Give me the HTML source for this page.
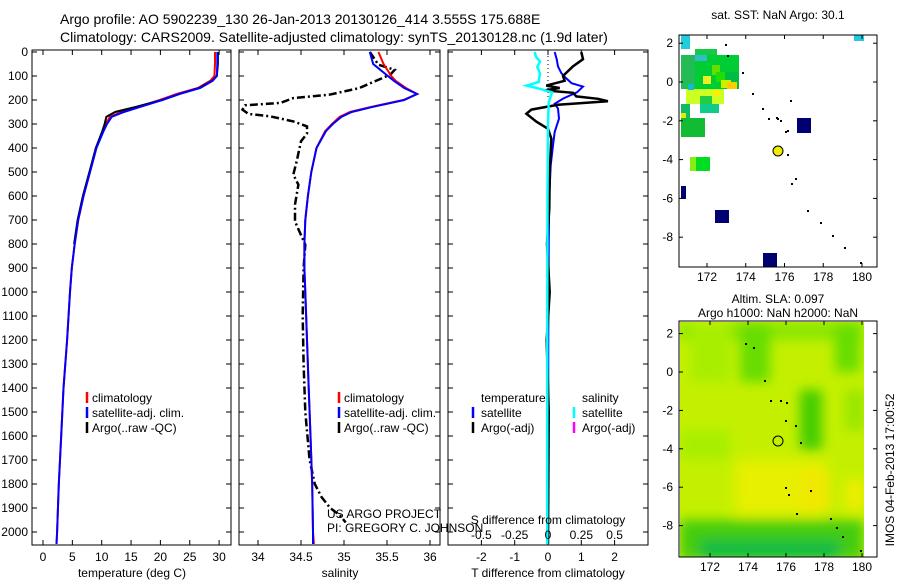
<!DOCTYPE html>
<html><head><meta charset="utf-8"><style>
body{margin:0;background:#fff;}
svg{display:block;font-family:"Liberation Sans",sans-serif;}
</style></head><body>
<svg id="c" width="900" height="580" xmlns="http://www.w3.org/2000/svg"></svg>
<script>
// ---------- data ----------
const depthTicks=[0,100,200,300,400,500,600,700,800,900,1000,1100,1200,1300,1400,1500,1600,1700,1800,1900,2000];
const tempTicks=[0,5,10,15,20,25,30];
const salTicks=[34,34.5,35,35.5,36];
const tdiffTicks=[-2,-1,0,1,2];
const sdiffTicks=[-0.5,-0.25,0,0.25,0.5];
const lonTicks=[172,174,176,178,180];
const latTicks=[2,0,-2,-4,-6,-8];
const profP=[0,50,100,120,150,175,200,230,250,270,300,330,400,500,600,700,800,900,1000,1200,1400,1600,1800,2000,2050];
const tempClim=[29.3,29.3,29.2,28.5,26.4,22.8,19.9,16,13.4,11.4,10.7,10.2,9.1,8.0,6.9,6.0,5.4,4.9,4.6,4.1,3.5,3.1,2.7,2.4,2.3];
const tempSat=[29.7,29.7,29.6,28.9,26.8,23.2,20.3,16.4,13.8,11.7,10.9,10.3,9.1,8.0,6.9,6.0,5.4,4.9,4.6,4.1,3.5,3.1,2.7,2.4,2.3];
const argoP=[0,50,100,120,150,175,200,230,250,270,300,330,400,500,600,700,800];
const tempArgo=[29.8,29.8,29.6,28.8,26.6,23.2,20.3,15.6,12.3,10.8,10.5,10.1,9.0,7.9,6.8,5.9,5.3];
const salClim=[35.40,35.46,35.55,35.60,35.72,35.85,35.69,35.30,35.07,34.95,34.86,34.78,34.68,34.62,34.58,34.55,34.54,34.54,34.55,34.57,34.59,34.61,34.63,34.64,34.65];
const salSat=[35.30,35.34,35.51,35.58,35.70,35.85,35.70,35.32,35.09,34.97,34.87,34.79,34.68,34.62,34.58,34.55,34.54,34.54,34.55,34.57,34.59,34.61,34.63,34.64,34.64];
const salArgoP=[0,53,74,94,125,150,178,192,212,222,240,258,268,289,310,340,372,455,511,553,636,706,747,803,900,1100,1300,1500,1700,1800,1855,1900,1930,1960];
const salArgo=[35.30,35.40,35.59,35.54,35.34,35.18,34.83,34.41,34.26,33.85,33.82,33.89,34.14,34.41,34.57,34.57,34.50,34.45,34.41,34.47,34.43,34.43,34.48,34.55,34.53,34.52,34.53,34.55,34.60,34.66,34.74,34.84,34.95,35.02];
const dP=[0,30,60,88,110,130,144,168,194,216,236,278,333,389,472,600,800,1200,2050];
const tdiffSat=[0.2,0.26,0.3,0.4,0.55,0.71,1.05,0.87,0.45,0.2,0.3,0.33,0.2,0.15,0.08,0.04,0.02,0.01,0.0];
const tdP=[0,30,60,100,120,140,150,160,170,185,195,205,220,240,257,290,320,360,500,650,800,1000,1200,1500,2050];
const tdiffArgo=[1.0,1.05,0.75,0.45,0.5,-0.05,0.35,-0.1,0.75,0.85,1.5,1.8,0.3,-0.5,-0.65,-0.35,0.0,0.1,0.05,0.04,-0.03,0.05,-0.04,0.02,0.0];
const sdP=[0,20,40,62,90,125,140,155,168,185,210,300,600,1000,2050];
const sdiffSat=[-0.1,-0.09,-0.06,-0.08,-0.06,-0.07,-0.16,-0.05,0.03,0.02,0.005,0.0,-0.004,-0.005,-0.006];
// ---------- helpers ----------
const S=document.getElementById('c');const NS='http://www.w3.org/2000/svg';
function el(t,a,p){const e=document.createElementNS(NS,t);for(const k in a)e.setAttribute(k,a[k]);(p||S).appendChild(e);return e;}
function tx(x,y,s,anchor,size,name){const e=el('text',{x:x,y:y,'font-size':size||12,'text-anchor':anchor||'start',fill:'#000'});e.textContent=s;

return e;}
const yP=p=>52+p*0.24;
const PT=50,PB=545;
function frame(x0,x1,name){const r=el('rect',{x:x0,y:PT,width:x1-x0,height:PB-PT,fill:'none',stroke:'#000','stroke-width':1});


depthTicks.forEach(d=>{el('line',{x1:x0,x2:x0+5,y1:yP(d),y2:yP(d),stroke:'#000'});el('line',{x1:x1-5,x2:x1,y1:yP(d),y2:yP(d),stroke:'#000'});});}
function line(xs,ps,fx,color,w,name,dash){const pts=xs.map((v,i)=>fx(v).toFixed(1)+','+yP(ps[i]).toFixed(1)).join(' ');
const a={points:pts,fill:'none',stroke:color,'stroke-width':w||2};if(dash)a['stroke-dasharray']=dash;const e=el('polyline',a);

}
// titles
tx(60,24,'Argo profile: AO 5902239_130 26-Jan-2013 20130126_414 3.555S 175.688E','start',14,'figure-title');
tx(60,42,'Climatology: CARS2009. Satellite-adjusted climatology: synTS_20130128.nc (1.9d later)','start',14,'figure-subtitle');
// ---- panel 1 temperature
const xT=v=>43+v*5.87;
frame(32,231,'temperature-panel');
depthTicks.forEach(d=>tx(28,yP(d)+4,String(d),'end',12,'depth-tick-label'));
tempTicks.forEach(t=>{el('line',{x1:xT(t),x2:xT(t),y1:PB,y2:PB-5,stroke:'#000'});el('line',{x1:xT(t),x2:xT(t),y1:PT,y2:PT+5,stroke:'#000'});tx(xT(t),561,String(t),'middle',12,'temp-tick-label');});
tx(132,577,'temperature (deg C)','middle',12,'temperature-axis-title');
line(tempClim,profP,xT,'#f00',2,'temp-climatology-line');
line(tempArgo,argoP,xT,'#000',2,'temp-argo-line');
line(tempSat,profP,xT,'#00f',2,'temp-satellite-line');
function legend(x,y,items){items.forEach((it,i)=>{el('line',{x1:x,x2:x,y1:y+i*15-6,y2:y+i*15+5,stroke:it[1],'stroke-width':2.5});tx(x+5,y+i*15+4,it[0],'start',12,'legend-entry');});}
legend(87,398,[['climatology','#f00'],['satellite-adj. clim.','#00f'],['Argo(..raw -QC)','#000']]);
// ---- panel 2 salinity
const xS=v=>258+(v-34)*86;
frame(239,440,'salinity-panel');
salTicks.forEach(t=>{el('line',{x1:xS(t),x2:xS(t),y1:PB,y2:PB-5,stroke:'#000'});el('line',{x1:xS(t),x2:xS(t),y1:PT,y2:PT+5,stroke:'#000'});tx(xS(t),561,String(t),'middle',12,'sal-tick-label');});
tx(340,577,'salinity','middle',12,'salinity-axis-title');
el('clipPath',{id:'c2'}).appendChild(document.createElementNS(NS,'rect'));
document.querySelector('#c2 rect').setAttribute('x',240);document.querySelector('#c2 rect').setAttribute('y',50);document.querySelector('#c2 rect').setAttribute('width',200);document.querySelector('#c2 rect').setAttribute('height',495);
const g2=el('g',{'clip-path':'url(#c2)'});
(function(){const pts=salArgo.map((v,i)=>xS(v).toFixed(1)+','+yP(salArgoP[i]).toFixed(1)).join(' ');
const e=el('polyline',{points:pts,fill:'none',stroke:'#000','stroke-width':2.5,'stroke-dasharray':'8 3 2 3'},g2);

})();
line(salClim,profP,xS,'#f00',2,'salinity-climatology-line');
line(salSat,profP,xS,'#00f',2,'salinity-satellite-line');
legend(339,398,[['climatology','#f00'],['satellite-adj. clim.','#00f'],['Argo(..raw -QC)','#000']]);
tx(327,518,'US ARGO PROJECT','start',12,'project-label');
tx(327,532,'PI: GREGORY C. JOHNSON','start',12,'pi-label');
// ---- panel 3 differences
const xD=v=>548+v*33.3, xSD=v=>548+v*133.3;
frame(448,648,'difference-panel');
tdiffTicks.forEach(t=>{el('line',{x1:xD(t),x2:xD(t),y1:PB,y2:PB-5,stroke:'#000'});el('line',{x1:xD(t),x2:xD(t),y1:PT,y2:PT+5,stroke:'#000'});tx(xD(t),561,String(t),'middle',12,'tdiff-tick-label');});
tx(548,577,'T difference from climatology','middle',12,'tdiff-axis-title');
el('line',{x1:548,x2:548,y1:52,y2:100,stroke:'#000','stroke-dasharray':'1 3'});
line(tdiffSat,dP,xD,'#00f',2,'tdiff-satellite-line');
line(tdiffArgo,tdP,xD,'#000',2.5,'tdiff-argo-line');
line(sdiffSat,sdP,xSD,'#0ff',2.5,'sdiff-satellite-line');
sdiffTicks.forEach(t=>tx(xSD(t),539,String(t),'middle',12,'sdiff-tick-label'));
tx(548,524,'S difference from climatology','middle',12,'sdiff-axis-title');
tx(481,402,'temperature','start',12,'legend-heading-temperature');
tx(582,402,'salinity','start',12,'legend-heading-salinity');
[['satellite','#00f',473],['Argo(-adj)','#000',473],['satellite','#0ff',574],['Argo(-adj)','#f0f',574]].forEach((it,i)=>{const y=413+(i%2)*15;el('line',{x1:it[2],x2:it[2],y1:y-6,y2:y+5,stroke:it[1],'stroke-width':2.5});tx(it[2]+8,y+4,it[0],'start',12,'legend-entry');});
// ---- map helpers
function mapAxes(x0,y0,x1,y1,lonX,latY,name){
 const r=el('rect',{x:x0,y:y0,width:x1-x0,height:y1-y0,fill:'none',stroke:'#000'});
 
 
 lonTicks.forEach(l=>{const x=lonX(l);el('line',{x1:x,x2:x,y1:y1,y2:y1-4,stroke:'#000'});el('line',{x1:x,x2:x,y1:y0,y2:y0+4,stroke:'#000'});tx(x,y1+14,String(l),'middle',12,'lon-tick-label');});
 latTicks.forEach(l=>{const y=latY(l);el('line',{x1:x0,x2:x0+4,y1:y,y2:y,stroke:'#000'});el('line',{x1:x1-4,x2:x1,y1:y,y2:y,stroke:'#000'});tx(x0-6,y+4,String(l),'end',12,'lat-tick-label');});}
// map1 SST
const m1x=l=>707+(l-172)*19.375, m1y=l=>82-l*19.4;
tx(778,19,'sat. SST: NaN Argo: 30.1','middle',12,'sst-map-title');
const cells1=[[681,35,9,14,'#22ccdd'],[695,49,22,6,'#11cc44'],[690,55,49,34,'#00cc33'],[681,55,14,34,'#22bb55'],[695,55,12,6,'#33bbcc'],[712,65,8,10,'#66dd00'],[716,72,12,10,'#22dd00'],[725,72,14,17,'#00bb44'],[721,80,10,8,'#ccee00'],[727,82,10,7,'#ffcc00'],[686,89,38,15,'#ccff22'],[700,96,12,8,'#22cc44'],[700,104,19,9,'#11cc88'],[681,104,9,14,'#11bb66'],[681,113,5,6,'#ddee00'],[681,118,24,19,'#11bb33'],[690,157,20,14,'#00dd22'],[690,157,6,14,'#88ee11'],[714,90,6,6,'#ffee00'],[703,76,8,8,'#eeee22'],[688,84,6,6,'#11bbcc']];
cells1.forEach(c=>{const r=el('rect',{x:c[0],y:c[1],width:c[2],height:c[3],fill:c[4]});});
[[797,118,14,15],[681,186,5,13],[715,210,14,13],[763,253,14,14]].forEach(c=>{const r=el('rect',{x:c[0],y:c[1],width:c[2],height:c[3],fill:'#000070'});});
el('rect',{x:854,y:35,width:10,height:6,fill:'#22ccdd'});
[[725,44],[727,55],[742,72],[752,93],[762,108],[768,118],[776,117],[780,120],[785,131],[787,130],[787,154],[795,178],[791,183],[807,210],[820,222],[832,235],[844,247],[860,262],[777,118],[790,100]].forEach(p=>el('rect',{x:p[0],y:p[1],width:2,height:2,fill:'#000'}));
const c1=el('circle',{cx:778,cy:151,r:5,fill:'#eeee00',stroke:'#000'});
mapAxes(679,35,877,267,m1x,m1y,'sst-map');
// map2 SLA
tx(778,303,'Altim. SLA: 0.097','middle',12,'sla-map-title');
tx(778,317,'Argo h1000: NaN h2000: NaN','middle',12,'sla-map-subtitle');
const m2x=l=>710+(l-172)*19, m2y=l=>372-l*19.2;
const defs=el('defs',{});
const bl=el('filter',{id:'bl',x:'-50%',y:'-50%',width:'200%',height:'200%'},defs);el('feGaussianBlur',{stdDeviation:6},bl);
const cp=el('clipPath',{id:'m2c'},defs);el('rect',{x:680,y:322,width:184,height:235},cp);
const g=el('g',{'clip-path':'url(#m2c)'});
el('rect',{x:680,y:322,width:184,height:235,fill:'#c4f000'},g);
const gb=el('g',{filter:'url(#bl)'},g);
[[680,322,184,18,'#88e600'],[690,322,40,60,'#a8ee00'],[740,322,30,60,'#66dd00'],[800,390,22,60,'#44cc00'],[835,322,25,50,'#66dd00'],[845,390,20,40,'#99e600'],[735,460,90,55,'#e6f000'],[800,470,30,40,'#f0e800'],[845,480,20,30,'#eeee00'],[680,430,50,30,'#a8ee00'],[680,520,184,40,'#44cc11'],[700,540,140,20,'#11bb44']].forEach(b=>el('rect',{x:b[0],y:b[1],width:b[2],height:b[3],fill:b[4]},gb));
[[745,343],[753,347],[764,380],[770,400],[780,400],[786,402],[785,420],[795,425],[800,442],[785,487],[788,494],[810,490],[796,513],[830,518],[836,527],[842,536],[860,550]].forEach(p=>el('rect',{x:p[0],y:p[1],width:2,height:2,fill:'#000'}));
const c2=el('circle',{cx:778,cy:441,r:5,fill:'none',stroke:'#000'});
mapAxes(679,321,877,557,m2x,m2y,'sla-map');
const rt=tx(0,0,'IMOS 04-Feb-2013 17:00:52','middle',12,'timestamp-label');rt.setAttribute('transform','translate(894,470) rotate(-90)');
</script>
</body></html>
